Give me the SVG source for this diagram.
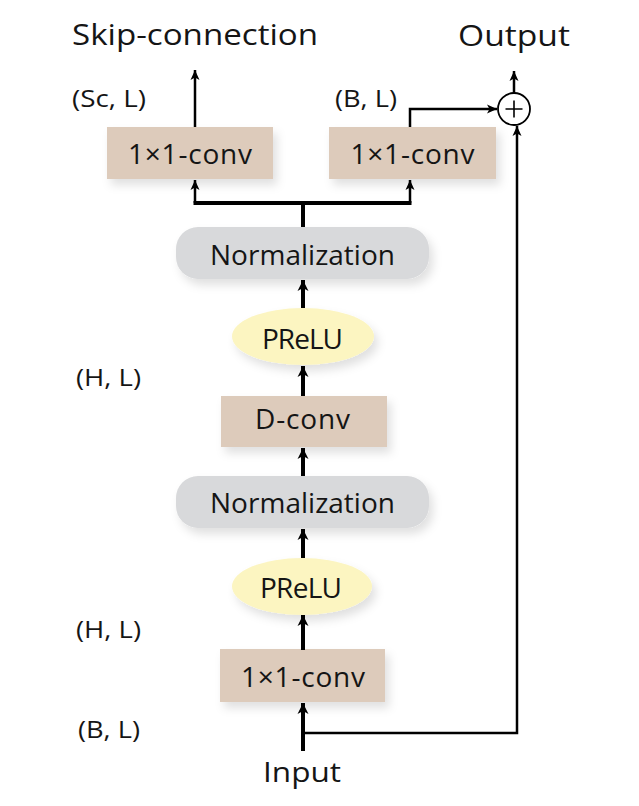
<svg xmlns="http://www.w3.org/2000/svg" width="639" height="806" viewBox="0 0 639 806">
<style>
text{font-family:"Open Sans","Noto Sans","Liberation Sans",sans-serif;fill:#151515}
.lbl{font-size:24px}
.big{font-size:30px}
.box{font-size:28px}
.conv{fill:#ddcbbb}
.norm{fill:#d8d9db}
.prelu{fill:#fcf5c1}
.thick{stroke:#000;stroke-width:4;fill:none}
.thin{stroke:#000;stroke-width:2.5;fill:none}
</style>
<defs>
<filter id="sh" x="-20%" y="-30%" width="150%" height="180%">
<feDropShadow dx="4" dy="6" stdDeviation="5" flood-color="#000" flood-opacity="0.12"/>
</filter>
<marker id="ah" markerUnits="userSpaceOnUse" markerWidth="14" markerHeight="14" refX="11" refY="7" orient="auto">
<path d="M0,1.5 L11,7 L0,12.5 L3,7 Z" fill="#000"/>
</marker>
<marker id="ahs" markerUnits="userSpaceOnUse" markerWidth="12" markerHeight="12" refX="10" refY="6" orient="auto">
<path d="M0,1.5 L10,6 L0,10.5 L2.5,6 Z" fill="#000"/>
</marker>
</defs>

<g id="labels">
<text class="big" x="72" y="44.5" textLength="246" lengthAdjust="spacingAndGlyphs">Skip-connection</text>
<text class="big" x="458" y="45.5" textLength="112" lengthAdjust="spacingAndGlyphs">Output</text>
<text class="lbl" x="72" y="107" textLength="74" lengthAdjust="spacingAndGlyphs">(Sc, L)</text>
<text class="lbl" x="335" y="107" textLength="62" lengthAdjust="spacingAndGlyphs">(B, L)</text>
<text class="lbl" x="76" y="386" textLength="65" lengthAdjust="spacingAndGlyphs">(H, L)</text>
<text class="lbl" x="76" y="638" textLength="65" lengthAdjust="spacingAndGlyphs">(H, L)</text>
<text class="lbl" x="78" y="738" textLength="62" lengthAdjust="spacingAndGlyphs">(B, L)</text>
<text class="big" x="263" y="781.5" textLength="78" lengthAdjust="spacingAndGlyphs" style="font-size:27px">Input</text>
</g>

<g id="conv-skip"><rect class="conv" x="107" y="127" width="166" height="52" filter="url(#sh)"/><text class="box" x="128" y="163.5" textLength="124">1×1-conv</text></g>
<g id="conv-out"><rect class="conv" x="329" y="127" width="167" height="52" filter="url(#sh)"/><text class="box" x="350.5" y="163.5" textLength="124">1×1-conv</text></g>
<g id="sum"><circle cx="514" cy="109" r="16" fill="#fff" stroke="#000" stroke-width="1.8"/><path d="M514,100.5 V117.5 M505.5,109 H522.5" stroke="#000" stroke-width="1.6"/></g>
<g id="norm2"><rect class="norm" x="176" y="227" width="253" height="52" rx="22" filter="url(#sh)"/><text class="box" x="210" y="264.5" textLength="185">Normalization</text></g>
<g id="prelu2"><ellipse class="prelu" cx="303" cy="336.5" rx="71" ry="28.5" filter="url(#sh)"/><text class="box" x="262" y="349" textLength="81">PReLU</text></g>
<g id="dconv"><rect class="conv" x="221" y="396" width="166" height="51" filter="url(#sh)"/><text class="box" x="255" y="429" textLength="95">D-conv</text></g>
<g id="norm1"><rect class="norm" x="176" y="476" width="253" height="52" rx="22" filter="url(#sh)"/><text class="box" x="210" y="513" textLength="185">Normalization</text></g>
<g id="prelu1"><ellipse class="prelu" cx="302" cy="586.5" rx="70" ry="28.5" filter="url(#sh)"/><text class="box" x="260" y="598" textLength="82">PReLU</text></g>
<g id="conv-in"><rect class="conv" x="220" y="649" width="165" height="53" filter="url(#sh)"/><text class="box" x="241" y="686.5" textLength="124">1×1-conv</text></g>

<g id="connectors">
<path class="thick" d="M303,751 V703" marker-end="url(#ah)"/>
<path class="thick" d="M303,615 V650" transform="rotate(180 303 632.5)" marker-end="url(#ah)"/>
<path class="thick" d="M303,558 V529" marker-end="url(#ah)"/>
<path class="thick" d="M303,476 V448" marker-end="url(#ah)"/>
<path class="thick" d="M303,396 V366" marker-end="url(#ah)"/>
<path class="thick" d="M303,308 V280" marker-end="url(#ah)"/>
<path class="thick" d="M303,227 V203"/>
<path class="thick" d="M193.5,203 H411.5"/>
<path class="thin" d="M195,203 V180" marker-end="url(#ahs)"/>
<path class="thin" d="M410,203 V180" marker-end="url(#ahs)"/>
<path class="thin" d="M195,127 V70" marker-end="url(#ahs)"/>
<path class="thin" d="M410,127 V109 H497" marker-end="url(#ahs)"/>
<path class="thin" d="M514,93 V71" marker-end="url(#ahs)"/>
<path class="thin" d="M303,733 H517 V126" marker-end="url(#ahs)"/>
</g>
</svg>
